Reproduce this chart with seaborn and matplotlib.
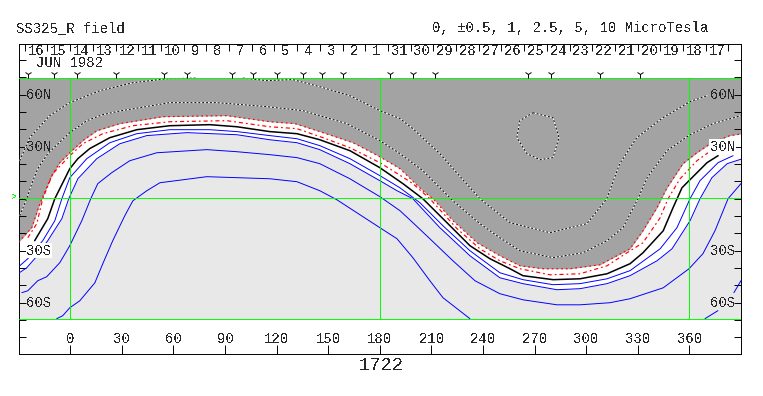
import numpy as np
import matplotlib
matplotlib.use("Agg")
import matplotlib.pyplot as plt
import seaborn as sns

sns.set_style("white")
plt.rcParams["font.family"] = ["Liberation Mono", "DejaVu Sans Mono"]
plt.rcParams["text.antialiased"] = False

# contours: (longitude, latitude)
red_outer_lon = [-30, -22.4, -17.7, -10.8, -6.1, -0.3, 7.3, 15.4, 28.8, 53.8, 91, 116, 130.6, 145.1, 164.4, 180, 191.7, 205, 210.9, 222.5, 236.5, 249.8, 261.5, 274.9, 290.6, 308, 325.5, 333, 341.2, 344.1, 347, 356.3, 364.4, 373.1, 383.6, 391]
red_outer_lat = [-25, -16.7, -2.9, 13.3, 20.8, 26.5, 33.5, 39.2, 43.3, 47.3, 47.9, 44.4, 43.3, 38.7, 32.3, 24.2, 17.3, 4.6, 0, -12.7, -25.4, -32.9, -38.7, -40.4, -40.4, -38.1, -28.9, -18.5, -5.2, 0.6, 6.3, 20.2, 26.5, 32.3, 36.4, 37.5]
red_inner_lon = [-24.7, -19.5, -16, -10.2, -0.3, 7.3, 18.9, 36.4, 57.9, 91, 116, 131.8, 146.9, 162.6, 180, 190.3, 199.2, 209.1, 224.9, 238.2, 249.8, 261.5, 278.9, 296.4, 312.1, 323.7, 333, 343, 347.6, 354.6, 364.4, 370.8]
red_inner_lat = [-22.5, -14.4, 0, 14.4, 24.8, 31.7, 37.5, 42.1, 44.4, 45, 41.5, 40.4, 35.2, 29.4, 20.8, 14.4, 8.7, 0, -17.3, -28.9, -35.8, -40.4, -43.9, -43.3, -38.7, -31.2, -25.4, -11, 0, 11.5, 21.9, 26.5]
zero_lon = [-20.7, -13.1, -9, -0.3, 4.4, 11.3, 23, 38.7, 57.9, 81.1, 96.9, 116, 131.8, 145.1, 162.6, 180, 193.4, 205, 219, 232.4, 244, 255.7, 263.2, 280.7, 296.4, 312.1, 325.5, 333, 344.8, 350.5, 355.7, 359.8, 370.3, 376.7]
zero_lat = [-24.2, -11.5, 0, 17.3, 23.1, 28.9, 35.2, 39.8, 42.1, 42.7, 41.5, 38.7, 37.5, 34, 27.7, 17.9, 8.7, 0, -13.8, -27.1, -34.6, -40.4, -44.4, -46.7, -46.2, -43.3, -37.5, -31.2, -18.5, -5.2, 6.3, 10.4, 20.8, 24.8]
blue1_lon = [-29.4, -24.7, -16, -9, -4.9, -0.3, 9.6, 23, 38.7, 57.9, 81.1, 96.9, 116, 131.8, 145.1, 162.6, 180, 191.7, 203.3, 216.7, 232.4, 249.8, 263.2, 280.7, 296.4, 312.1, 325.5, 343, 352.8, 360.4, 366.2, 376.7, 385.4]
blue1_lat = [-38.7, -34.6, -24.2, -12.7, 0, 12.1, 23.1, 32.3, 37.5, 39.8, 39.8, 38.7, 36.4, 34.6, 30.6, 23.1, 13.3, 6.3, -2.3, -15.6, -30, -42.7, -46.7, -49.6, -49, -46.2, -41.5, -28.9, -16.7, 0, 10.4, 20.8, 24.8]
blue2_lon = [-30, -25.3, -20.7, -13.1, -4.9, -0.9, 4.4, 15.4, 28.8, 44.5, 67.8, 96.9, 116, 131.8, 145.1, 162.6, 180, 190, 199.2, 214.9, 232.4, 249.8, 263.2, 283, 296.4, 312.1, 325.5, 341.2, 349.9, 360.4, 366.2, 373.1, 382, 391]
blue2_lat = [-43, -39.8, -34.6, -24.2, -11.5, 0, 11.5, 23.1, 31.7, 36.4, 38.1, 36.9, 34, 32.3, 28.3, 20.2, 10.4, 4.6, 0, -16.7, -32.9, -45.6, -49, -52.5, -51.9, -49, -44.4, -35.8, -28.9, -12.7, 0, 12.1, 20.2, 23.1]
blue3_lon = [-28.2, -24.7, -18.9, -13.7, -6.1, -0.3, 6.7, 11.9, 16, 24.1, 34.6, 50.3, 79.4, 96.9, 116, 131.8, 145.1, 162.6, 180, 191.7, 199.2, 209.1, 222.5, 235.3, 249.8, 263.2, 283, 296.4, 313.8, 325.5, 344.8, 359.8, 367.9, 374.9, 382.5, 390]
blue3_lat = [-54.2, -53.1, -47.3, -45, -36.9, -27.1, -12.7, 0, 8.7, 15, 21.9, 26.5, 28.3, 27.1, 25.4, 23.7, 20.2, 11.5, 1.2, -6.9, -13.8, -23.1, -35.8, -47.3, -54.8, -58.3, -61.2, -61.2, -60, -57.7, -51.4, -40.4, -31.7, -18.5, 0, 8.7]
blue4_lon = [-7.9, -4.4, -0.3, 5.5, 14.3, 18.9, 24.7, 31.7, 36.4, 44.5, 52.1, 79.4, 116, 131.8, 145.1, 155, 180, 190, 199.2, 209.1, 216.7, 232.4]
blue4_lat = [-69.2, -67.5, -62.9, -58.9, -48.5, -37.5, -24.2, -9.8, -1.2, 4.6, 9.2, 12.7, 11.5, 9.8, 4.6, -0.6, -16.7, -23.1, -34, -47.3, -57.1, -69.2]
blue4_end1_lon = [369.1, 376.6]
blue4_end1_lat = [-69.2, -64.6]
blue4_end2_lon = [385.9, 390]
blue4_end2_lat = [-54.2, -47.3]
dot_a_left_lon = [-29.4, -23.6, -12, -0.3, 17.2, 36.4, 56.1, 73.6]
dot_a_left_lat = [21.9, 35.2, 47.9, 55.4, 62.3, 66.9, 69.2, 69.6]
dot_a_right_lon = [100.3, 114.3, 129.4, 145.1, 162.6, 180, 191.7, 199.2, 214.9, 223.6, 238.2, 255.7, 278.9, 300.4, 312, 319.5, 329.4, 344.6, 360.4, 370.3]
dot_a_right_lat = [69.6, 68.1, 68.7, 64.6, 59.4, 50.8, 46.2, 40.4, 26, 16.2, 0, -13.8, -19.6, -14.4, 0, 20.2, 35.2, 46.7, 56, 59.4]
dot_b_lon = [-29.4, -25.3, -22.4, -18.9, -13.1, -0.3, 9.6, 18.9, 30, 57.9, 85.2, 114.3, 135.2, 160.8, 180, 191.7, 205, 222.5, 238.2, 249.8, 261.5, 280.7, 298.1, 312.1, 321.4, 330.1, 335.4, 347, 360.4, 373.7, 390]
dot_b_lat = [-9.8, 0, 8.7, 17.3, 26, 38.1, 45, 48.5, 50.8, 55.4, 55.4, 53.1, 50.8, 43.3, 33.5, 26, 16.2, -1.2, -14.4, -22.5, -30, -34, -31.2, -24.2, -16.7, 0, 12.1, 27.7, 36.9, 43.3, 47.9]
loop_lon = [269, 280.7, 284.2, 280.7, 273.1, 265.5, 259.7, 261.4, 269]
loop_lat = [49.6, 46.7, 35.2, 23.7, 22.5, 26, 35.2, 45, 49.6]

# marks along the top of the map
mark_lon = [-24.7, -9.6, 3.8, 26.4, 54.4, 67.7, 93.9, 106.1, 120, 135.2, 146.3, 158.3, 185.8, 199.2, 211.9, 266.1, 279.4, 308, 331.2]
# day labels above the map, running right to left
day_labels = [16, 15, 14, 13, 12, 11, 10, 9, 8, 7, 6, 5, 4, 3, 2, 1, 31, 30, 29, 28, 27, 26, 25, 24, 23, 22, 21, 20, 19, 18, 17]
lon_ticks = [0, 30, 60, 90, 120, 150, 180, 210, 240, 270, 300, 330, 360]
lat_labels = {60: "60N", 30: "30N", -30: "30S", -60: "60S"}

GREEN = "#00ff00"
DARK = "#a3a3a3"
LIGHT = "#e8e8e8"
THIN = 0.7
MAP_TOP = 69.8
MAP_BOTTOM = -69.2
EQUATOR = 0.3


def curve(ax, lon, lat, color, ls="-", lw=THIN, z=4):
    sns.lineplot(x=lon, y=lat, color=color, linestyle=ls, linewidth=lw, sort=False,
                 estimator=None, zorder=z, ax=ax)


def label(ax, x, y, s, boxed=False):
    box = dict(facecolor="white", edgecolor="none", pad=0.5) if boxed else None
    ax.text(x, y, s, fontsize=10, ha="left", va="center", zorder=8, bbox=box)


def main():
    fig = plt.figure(figsize=(7.63, 3.96), dpi=100)
    ax = fig.add_axes([19.3 / 763, 42.3 / 396, 722 / 763, 310 / 396])
    ax.set_xlim(-29.65, 390.2)
    ax.set_ylim(-89.4, 89.4)
    ax.set_axisbelow(False)

    # shaded field regions
    ax.fill_between(red_outer_lon, red_outer_lat, MAP_TOP, color=DARK, lw=0, zorder=1)
    ax.fill_between(blue2_lon, blue2_lat, MAP_BOTTOM, color=LIGHT, lw=0, zorder=1)

    for lon, lat in [(blue1_lon, blue1_lat), (blue2_lon, blue2_lat), (blue3_lon, blue3_lat),
                     (blue4_lon, blue4_lat), (blue4_end1_lon, blue4_end1_lat),
                     (blue4_end2_lon, blue4_end2_lat)]:
        curve(ax, lon, lat, "#0000ff")
    curve(ax, zero_lon, zero_lat, "black", lw=1.1)
    curve(ax, red_outer_lon, red_outer_lat, "#ff0000", ls=(0, (1.5, 2.5)), lw=0.85)
    curve(ax, red_inner_lon, red_inner_lat, "#ff0000", ls=(0, (3.5, 2.5, 1.5, 2.5)), lw=0.85)
    for lon, lat in [(dot_a_left_lon, dot_a_left_lat), (dot_a_right_lon, dot_a_right_lat),
                     (dot_b_lon, dot_b_lat), (loop_lon, loop_lat)]:
        curve(ax, lon, lat, "white")
        curve(ax, lon, lat, "black", ls=(0, (2, 2)), z=5)

    # green grid
    for x in [0, 180, 360]:
        ax.plot([x, x], [MAP_BOTTOM, MAP_TOP], color=GREEN, lw=THIN, snap=True, zorder=6)
    for y in [MAP_TOP, EQUATOR, MAP_BOTTOM]:
        ax.plot([-29.65, 390.2], [y, y], color=GREEN, lw=THIN, snap=True, zorder=6)
    ax.text(-30.5, 1, ">", color=GREEN, fontsize=7, ha="right", va="center", clip_on=False)

    ax.plot(mark_lon, [71.8] * len(mark_lon), ls="none", marker="1", ms=6, mew=0.7,
            color="black", zorder=7)

    # frame and ticks
    for sp in ax.spines.values():
        sp.set_color("black")
        sp.set_linewidth(THIN)
    ax.set_xticks(lon_ticks)
    ax.set_xticklabels([])
    ax.set_yticks(np.arange(-80, 81, 10))
    ax.set_yticklabels([])
    ax.tick_params(axis="x", direction="in", length=6.5, width=THIN, bottom=True, color="black")
    ax.tick_params(axis="y", direction="in", length=5, width=THIN, left=True, right=True, color="black")
    top = ax.secondary_xaxis("top")
    day_ticks = -26.5 + 13.2 * np.arange(len(day_labels) + 1)
    top.set_xticks(day_ticks)
    top.set_xticklabels([])
    top.tick_params(direction="in", length=5, width=THIN, color="black")
    top.spines["top"].set_visible(False)

    for x, d in zip(day_ticks, day_labels):
        ax.text(x + 6.6, 85, str(d), fontsize=10, ha="center", va="center", zorder=8)
    for x in lon_ticks:
        ax.text(x, -81, str(x), fontsize=10, ha="center", va="center", zorder=8)
    for y, s in lat_labels.items():
        label(ax, -25.6, y, s, boxed=(y == -30))
        label(ax, 372, y, s, boxed=(y == 30))
    ax.text(-20, 78, "JUN 1982", fontsize=10, ha="left", va="center", zorder=8)

    fig.text(16 / 763, 1 - 28 / 396, "SS325_R field", fontsize=10, ha="left", va="center")
    fig.text(432 / 763, 1 - 28 / 396, "0, \u00b10.5, 1, 2.5, 5, 10 MicroTesla", fontsize=10, ha="left", va="center")
    fig.text(381 / 763, 1 - 366 / 396, "1722", fontsize=13.5, ha="center", va="center")

    fig.savefig("out.png", dpi=100)


if __name__ == "__main__":
    main()
